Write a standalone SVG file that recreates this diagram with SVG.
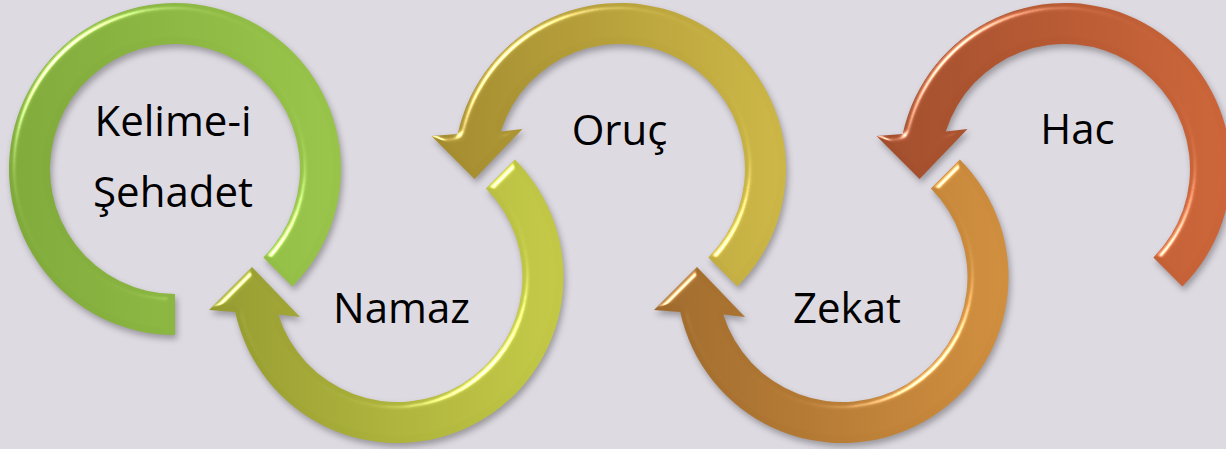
<svg xmlns="http://www.w3.org/2000/svg" width="1226" height="449" viewBox="0 0 1226 449">
<defs>
<style>
.lbl{font-family:"Open Sans","Liberation Sans",sans-serif;font-size:42px;fill:#000;text-anchor:middle}
.ring{filter:url(#bev)}
</style>
<filter id="bev" x="-10%" y="-10%" width="125%" height="125%" color-interpolation-filters="sRGB">
<feGaussianBlur in="SourceAlpha" stdDeviation="3" result="blur"/>
<feSpecularLighting in="blur" surfaceScale="5" specularConstant="1" specularExponent="30" lighting-color="#ffffff" result="spec">
<feDistantLight azimuth="225" elevation="30"/>
</feSpecularLighting>
<feComposite in="spec" in2="SourceAlpha" operator="in" result="specIn"/>
<feOffset in="SourceAlpha" dx="2" dy="4" result="off"/>
<feGaussianBlur in="off" stdDeviation="3" result="sh"/>
<feFlood flood-color="#000" flood-opacity="0.3"/>
<feComposite in2="sh" operator="in" result="shadow"/>
<feComposite in="SourceGraphic" in2="specIn" operator="arithmetic" k1="0" k2="1" k3="0.75" k4="0" result="lit"/>
<feMerge><feMergeNode in="shadow"/><feMergeNode in="lit"/></feMerge>
</filter>
<linearGradient id="g1" x1="0" y1="0" x2="1" y2="0"><stop offset="0" stop-color="#7FA93A"/><stop offset="1" stop-color="#98C44A"/></linearGradient>
<linearGradient id="g2" x1="0" y1="0" x2="1" y2="0"><stop offset="0" stop-color="#959A30"/><stop offset="1" stop-color="#C3C946"/></linearGradient>
<linearGradient id="g3" x1="0" y1="0" x2="1" y2="0"><stop offset="0" stop-color="#A28A2E"/><stop offset="1" stop-color="#CBB646"/></linearGradient>
<linearGradient id="g4" x1="0" y1="0" x2="1" y2="0"><stop offset="0" stop-color="#9E6A2C"/><stop offset="1" stop-color="#D08E3E"/></linearGradient>
<linearGradient id="g5" x1="0" y1="0" x2="1" y2="0"><stop offset="0" stop-color="#A04D2C"/><stop offset="1" stop-color="#CC6539"/></linearGradient>
</defs>
<rect x="0" y="0" width="1226" height="449" fill="#DEDAE2"/>
<g id="node-kelime">
<path class="ring" fill="url(#g1)" d="M175,335 A166,166 0 1 1 292.38,286.38 L263.39,257.39 A125,125 0 1 0 175,294 Z"/>
<text class="lbl" x="173" y="136">Kelime-i</text>
<text class="lbl" x="173" y="207">Şehadet</text>
</g>
<g id="node-namaz">
<path class="ring" fill="url(#g2)" d="M514.88,159.62 A166,166 0 1 1 235.23,312 L209,310 L252,267 L300,317 L278.26,314.5 A125,125 0 1 0 485.89,188.61 Z"/>
<text class="lbl" x="401.5" y="323">Namaz</text>
</g>
<g id="node-oruc">
<path class="ring" fill="url(#g3)" d="M737.38,286.38 A166,166 0 1 0 457.73,134 L431.5,136 L474.5,179 L522.5,129 L500.76,131.5 A125,125 0 1 1 708.39,257.39 Z"/>
<text class="lbl" x="619.5" y="145">Oruç</text>
</g>
<g id="node-zekat">
<path class="ring" fill="url(#g4)" d="M959.88,159.62 A166,166 0 1 1 680.23,312 L654,310 L697,267 L745,317 L723.26,314.5 A125,125 0 1 0 930.89,188.61 Z"/>
<text class="lbl" x="847" y="323">Zekat</text>
</g>
<g id="node-hac">
<path class="ring" fill="url(#g5)" d="M1182.38,286.38 A166,166 0 1 0 902.73,134 L876.5,136 L919.5,179 L967.5,129 L945.76,131.5 A125,125 0 1 1 1153.39,257.39 Z"/>
<text class="lbl" x="1077.5" y="144">Hac</text>
</g>
</svg>
